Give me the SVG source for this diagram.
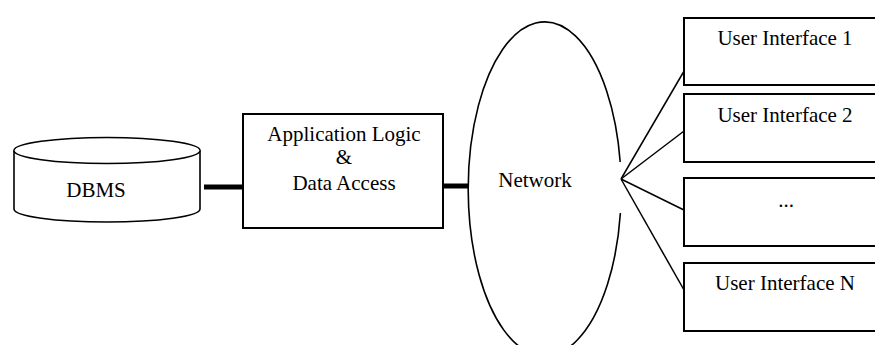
<svg xmlns="http://www.w3.org/2000/svg" width="875" height="345" viewBox="0 0 875 345">
<style>
text { font-family: "Liberation Serif", "Times New Roman", serif; font-size: 21px; fill: #000; text-anchor: middle; }
.shape { fill: #fff; stroke: #000; stroke-width: 1.6; }
.box { fill: #fff; stroke: #000; stroke-width: 2; }
.thin { stroke: #000; stroke-width: 1.5; fill: none; }
.thick { stroke: #000; stroke-width: 5; fill: none; }
</style>
<g id="connectors">
<line class="thick" x1="204" y1="187" x2="243" y2="187"/>
<line class="thick" x1="443" y1="186" x2="469" y2="186"/>
<line class="thin" x1="621" y1="179" x2="687" y2="66"/>
<line class="thin" x1="621" y1="179" x2="688" y2="128"/>
<line class="thin" x1="621" y1="179" x2="688" y2="212"/>
<line class="thin" x1="621" y1="179" x2="688" y2="297"/>
</g>
<g id="dbms">
<path class="shape" d="M14,150.5 L14,209 A93,13 0 0 0 200,209 L200,150.5 A93,13 0 0 0 14,150.5 Z"/>
<path class="shape" d="M14,150.5 A93,13 0 0 0 200,150.5" fill="none"/>
<text x="96" y="197">DBMS</text>
</g>
<g id="app">
<rect class="box" x="243" y="114" width="200" height="114"/>
<text x="344" y="141">Application Logic</text>
<text x="344" y="164">&amp;</text>
<text x="344" y="190">Data Access</text>
</g>
<g id="network">
<path class="shape" d="M620.2,162 A76.5,167 0 1 0 620.4,213" fill="#fff"/>
<text x="535" y="187">Network</text>
</g>
<g id="ui1">
<rect class="box" x="684" y="18" width="200" height="67"/>
<text x="785" y="45">User Interface 1</text>
</g>
<g id="ui2">
<rect class="box" x="684" y="94" width="200" height="68"/>
<text x="785" y="122">User Interface 2</text>
</g>
<g id="uidots">
<rect class="box" x="684" y="178" width="200" height="68"/>
<text x="786" y="207">...</text>
</g>
<g id="uin">
<rect class="box" x="684" y="263" width="200" height="68"/>
<text x="785" y="290">User Interface N</text>
</g>
</svg>
